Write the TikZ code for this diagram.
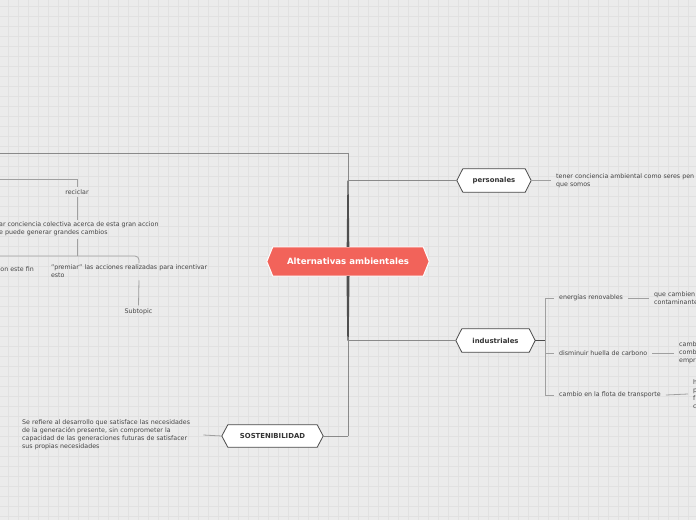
\documentclass[tikz,border=0pt]{standalone}
\usepackage{fontspec}
\setmainfont{DejaVu Sans}
\usetikzlibrary{calc}
\definecolor{bgc}{HTML}{EBEBEB}
\definecolor{gridc}{HTML}{E1E1E1}
\definecolor{txt}{HTML}{454545}
\definecolor{lnc}{HTML}{A0A0A0}
\definecolor{midc}{HTML}{8A8A8A}
\definecolor{trunkc}{HTML}{4F4F4F}
\definecolor{redc}{HTML}{F2635A}
\definecolor{hexline}{HTML}{4A4A4A}
\pgfdeclarelayer{bg}\pgfdeclarelayer{hex}\pgfsetlayers{bg,hex,main}
\newcommand{\hexa}[3]{\filldraw[#3] (#1.west) -- ([xshift=#2]#1.north west) -- ([xshift=-#2]#1.north east) -- (#1.east) -- ([xshift=-#2]#1.south east) -- ([xshift=#2]#1.south west) -- cycle;}
\begin{document}
\begin{tikzpicture}[x=1pt,y=-1pt,
  lbl/.style={font=\fontsize{6.3}{8}\selectfont, text=txt, align=left, inner xsep=5pt, inner ysep=1pt},
  topic/.style={font=\bfseries\fontsize{6.9}{8}\selectfont, text=black!80, inner sep=0pt, minimum height=23pt},
  conn/.style={draw=lnc, line width=0.8pt},
  dconn/.style={draw=midc, line width=0.9pt},
  hexw/.style={fill=white, draw=hexline, line width=0.8pt},
  hexr/.style={fill=redc, draw=white, line width=1pt},
  trunk/.style={fill=trunkc}]
\useasboundingbox (0,0) rectangle (696,520);
\begin{pgfonlayer}{bg}
  \fill[bgc] (0,0) rectangle (696,520);
  \foreach \x in {8,18,...,688} \draw[gridc, line width=0.6pt] (\x,0) -- (\x,520);
  \foreach \y in {6,16,...,516} \draw[gridc, line width=0.6pt] (0,\y) -- (696,\y);
\end{pgfonlayer}
\clip (0,0) rectangle (696,520);

% topics
\node[font=\bfseries\fontsize{8.6}{10}\selectfont, text=white, minimum width=162pt, minimum height=29pt, inner sep=0pt] (cen) at (348,261.5) {Alternativas ambientales};
\node[topic, minimum width=74pt] (pers) at (494,180.5) {personales};
\node[topic, minimum width=79pt] (ind) at (495.5,340.5) {industriales};
\node[topic, minimum width=101pt, minimum height=22pt] (sos) at (272.5,436) {SOSTENIBILIDAD};
\begin{pgfonlayer}{hex}
  \hexa{cen}{6pt}{hexr}
  \hexa{pers}{6pt}{hexw}
  \hexa{ind}{6pt}{hexw}
  \hexa{sos}{6pt}{hexw}
\end{pgfonlayer}

% trunk
\coordinate (topJ) at (348,153);
\coordinate (topL) at (-3,153);
\coordinate (persJ) at (348,180.5);
\coordinate (indJ) at (348,340.5);
\coordinate (sosJ) at (348,436);
\begin{pgfonlayer}{hex}
  \fill[trunk] ($(persJ)+(-0.6,0)$) -- ($(persJ)+(0.6,0)$) -- ($(cen.north)+(1.3,0)$) -- ($(cen.north)+(-1.3,0)$) -- cycle;
  \fill[trunk] ($(cen.south)+(-1.5,0)$) -- ($(cen.south)+(1.5,0)$) -- ($(indJ)+(0.7,0)$) -- ($(indJ)+(-0.7,0)$) -- cycle;
  \draw[dconn] (indJ) -- (sosJ);
  \draw[conn, draw=midc] (persJ) -- (topJ) -- (topL);
\end{pgfonlayer}
\draw[conn, draw=midc] (persJ) -- (pers.west);
\draw[conn, draw=midc] (indJ) -- (ind.west);
\draw[dconn] (sosJ) -- (sos.east);

% personales
\node[lbl, anchor=west] (persT) at (551,180.5) {tener conciencia ambiental como seres pen\\que somos};
\draw[conn] (pers.east) -- (persT.west);

% industriales
\coordinate (indK) at (545,340.5);
\node[lbl, anchor=west] (ener) at (554,298) {energías renovables};
\node[lbl, anchor=west] (dism) at (554,353) {disminuir huella de carbono};
\node[lbl, anchor=west] (flota) at (554,395) {cambio en la flota de transporte};
\draw[dconn, draw=hexline] (ind.east) -- (indK);
\draw[conn] (indK) |- (ener.west);
\draw[conn] (indK) |- (dism.west);
\draw[conn] (indK) |- (flota.west);
\node[lbl, anchor=west] (enerT) at (649,298) {que cambien\\contaminante};
\node[lbl, anchor=west] (dismT) at (674,353) {camb\\comb\\empr};
\node[lbl, anchor=west] (flotaT) at (688,394) {h\\p\\f\\c};
\draw[conn] (ener.east) -- (enerT.west);
\draw[conn] (dism.east) -- (dismT.west);
\draw[conn] (flota.east) -- (flotaT.west);

% sostenibilidad
\node[lbl, anchor=west, text width=176pt] (sosT) at (17,435) {Se refiere al desarrollo que satisface las necesidades\\de la generación presente, sin comprometer la\\capacidad de las generaciones futuras de satisfacer\\sus propias necesidades};
\draw[conn] (sos.west) -- (sosT.east);

% left branch
\node[lbl, inner ysep=2pt] (recic) at (77,192) {reciclar};
\coordinate (recL) at (-3,179);
\draw[conn] (recL) -| (recic.north);
\node[lbl, anchor=north west, inner xsep=0pt, inner ysep=2pt] (concT) at (-1,220) {ar conciencia colectiva acerca de esta gran accion\\e puede generar grandes cambios};
\draw[conn] (recic.south) -- (recic.south |- concT.north);
\coordinate (concJ) at (77,256);
\coordinate (concL) at (-3,256);
\draw[conn] (concJ |- concT.south) -- (concJ);
\node[lbl, anchor=north, text width=176pt, inner xsep=0pt, inner ysep=2pt] (premT) at (139,263) {"premiar" las acciones realizadas para incentivar\\esto};
\draw[conn, rounded corners=4pt] (concL) -| (premT.north);
\node[lbl, anchor=east, inner xsep=1pt] (finT) at (35,269) {on este fin};
\node[lbl, inner ysep=3pt] (sub) at (138.5,311.5) {Subtopic};
\draw[conn] (premT.south) -- (sub.north);
\end{tikzpicture}
\end{document}
